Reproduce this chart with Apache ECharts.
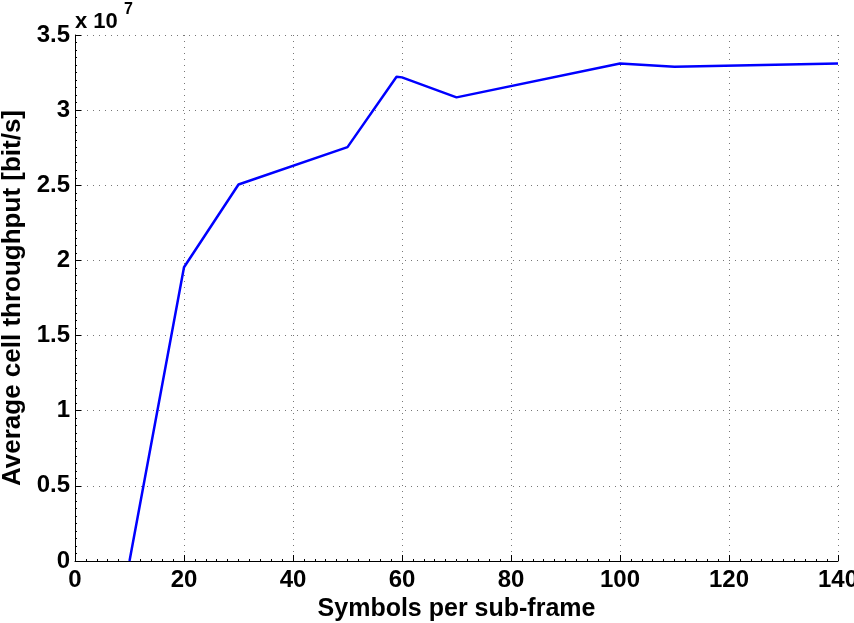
<!DOCTYPE html>
<html><head><meta charset="utf-8">
<script src="https://cdn.jsdelivr.net/npm/echarts@6/dist/echarts.min.js"></script>
<style>html,body{margin:0;padding:0;background:#fff}#c{width:854px;height:623px}</style>
</head><body><div id="c"></div>
<script>
const symbols = [10, 20, 30, 50, 59, 60, 70, 100, 110, 140];
const throughput = [0, 1.955e7, 2.505e7, 2.754e7, 3.222e7, 3.218e7, 3.085e7, 3.311e7, 3.289e7, 3.311e7];
const yTickLabels = ['0','0.5','1','1.5','2','2.5','3','3.5'];
const xName = 'Symbols per sub-frame';
const yName = 'Average cell throughput [bit/s]';
const scaleBase = 'x 10';
const scaleExp = '7';

const FONT = 'Liberation Sans, Arial, sans-serif';
const chart = echarts.init(document.getElementById('c'));
chart.setOption({
  animation: false,
  backgroundColor: '#fff',
  grid: {left: 75, right: 16, top: 35, bottom: 62, containLabel: false, outerBoundsMode: 'none'},
  title: [
    {left: 75, top: 11, padding: 0, text: scaleBase,
     textStyle: {fontFamily: FONT, fontWeight: 'bold', fontSize: 22, color: '#000'}},
    {left: 124, top: 2, padding: 0, text: scaleExp,
     textStyle: {fontFamily: FONT, fontWeight: 'bold', fontSize: 16, color: '#000'}}
  ],
  xAxis: {
    type: 'value', min: 0, max: 140, interval: 20,
    name: xName, nameLocation: 'middle', nameGap: 31,
    nameTextStyle: {fontFamily: FONT, fontWeight: 'bold', fontSize: 25, color: '#000'},
    axisLine: {show: true, lineStyle: {color: '#000', width: 1}},
    axisTick: {show: true, inside: true, length: 6, lineStyle: {color: '#000'}},
    minorTick: {show: true, splitNumber: 10, length: 2, lineStyle: {color: '#000'}},
    axisLabel: {fontFamily: FONT, fontWeight: 'bold', fontSize: 24, color: '#000', margin: 7, showMaxLabel: true},
    splitLine: {show: true, lineStyle: {color: '#777', type: [1, 5], width: 1}}
  },
  yAxis: {
    type: 'value', min: 0, max: 3.5e7, interval: 0.5e7,
    name: yName, nameLocation: 'middle', nameGap: 45,
    nameTextStyle: {fontFamily: FONT, fontWeight: 'bold', fontSize: 26, color: '#000'},
    axisLine: {show: true, lineStyle: {color: '#000', width: 1}},
    axisTick: {show: true, inside: true, length: 6, lineStyle: {color: '#000'}},
    minorTick: {show: true, splitNumber: 10, length: 2, lineStyle: {color: '#000'}},
    axisLabel: {fontFamily: FONT, fontWeight: 'bold', fontSize: 24, color: '#000', margin: 5,
      formatter: (v) => yTickLabels[Math.round(v / 0.5e7)]},
    splitLine: {show: true, lineStyle: {color: '#777', type: [1, 5], width: 1}}
  },
  series: [{
    type: 'line',
    data: symbols.map((x, i) => [x, throughput[i]]),
    showSymbol: false,
    lineStyle: {color: '#0000ff', width: 2.5},
    itemStyle: {color: '#0000ff'}
  }]
});
</script></body></html>
